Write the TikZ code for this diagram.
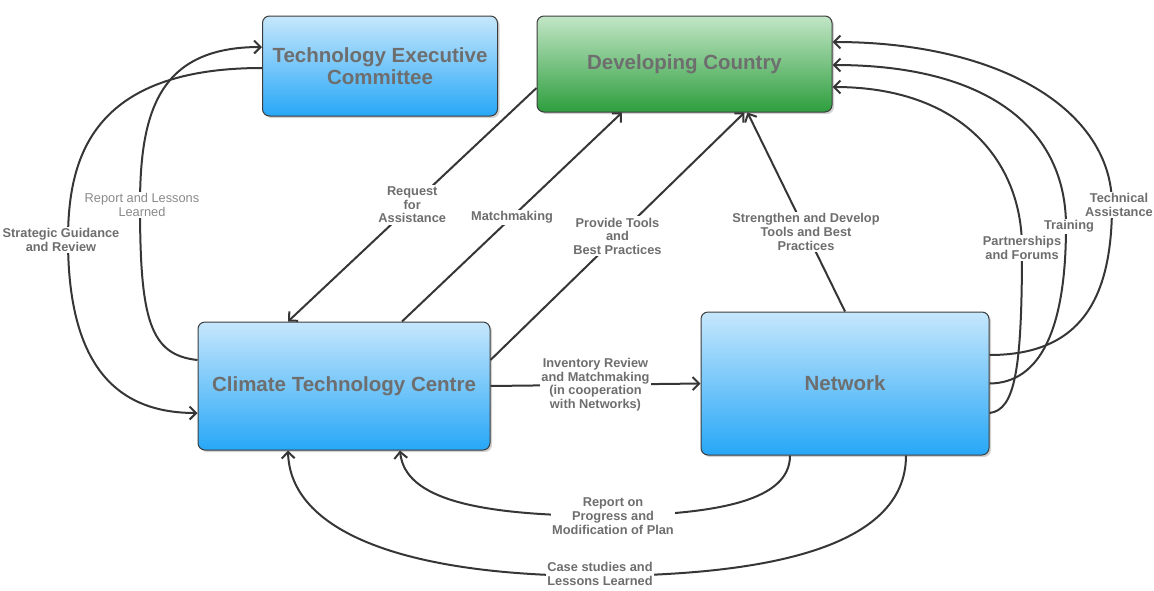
\documentclass[tikz,border=0pt]{standalone}
\usepackage{fontspec}
\setmainfont{Liberation Sans}
\usetikzlibrary{arrows.meta}
\usetikzlibrary{shadows}

\definecolor{boxtext}{HTML}{6E6E6E}
\definecolor{softtext}{HTML}{8A8A8A}
\definecolor{boxline}{HTML}{3C3C3C}
\definecolor{linkcolor}{HTML}{363636}
\definecolor{bluetop}{HTML}{C6E7FC}
\definecolor{bluebottom}{HTML}{27A7F7}
\definecolor{greentop}{HTML}{C2E6C6}
\definecolor{greenbottom}{HTML}{2E9E3E}

\begin{document}
\begin{tikzpicture}[x = 1pt, y = -1pt]
	\tikzstyle{BoxStyle} = [draw = boxline, line width = 1pt, rounded corners = 7pt, align = center, text = boxtext, font = \fontsize{20.5}{22}\selectfont\bfseries, drop shadow = {shadow xshift = 2pt, shadow yshift = -2pt, opacity = 0.35}]
	\tikzstyle{blueStyle} = [BoxStyle, top color = bluetop, bottom color = bluebottom]
	\tikzstyle{greenStyle} = [BoxStyle, top color = greentop, bottom color = greenbottom]
	\tikzstyle{LinkStyle} = [draw = linkcolor, line width = 2pt, -{Straight Barb[length = 6.5pt, width = 13pt]}]
	\tikzstyle{labelStyle} = [fill = white, align = center, text = boxtext, inner sep = 1.5pt, font = \fontsize{12.8}{13.8}\selectfont\bfseries]
	\tikzstyle{softLabelStyle} = [labelStyle, text = softtext, font = \fontsize{12.8}{13.8}\selectfont]
	\useasboundingbox (0, 0) rectangle (1154, 590);
	\node[blueStyle, minimum width = 235pt, minimum height = 100pt] (tec) at (380, 66) {Technology Executive\\Committee};
	\node[greenStyle, minimum width = 295pt, minimum height = 96pt] (dc) at (684.5, 64) {Developing Country};
	\node[blueStyle, minimum width = 292pt, minimum height = 128pt] (ctc) at (344, 386) {Climate Technology Centre};
	\node[blueStyle, minimum width = 288pt, minimum height = 143pt] (net) at (845, 383.5) {Network};
	\draw[LinkStyle] ([yshift = -2pt]tec.west) .. controls (90, 68) and (68, 160) .. (68, 240) node[labelStyle, xshift = -7pt] {Strategic Guidance\\and Review} .. controls (68, 370) and (120, 413) .. ([yshift = -27pt]ctc.west);
	\draw[LinkStyle] ([yshift = 26pt]ctc.west) .. controls (150, 355) and (140, 320) .. (140, 205) node[softLabelStyle, xshift = 2pt] {Report and Lessons\\Learned} .. controls (140, 110) and (160, 47) .. ([yshift = 19pt]tec.west);
	\draw[LinkStyle] ([yshift = -24pt]dc.west) -- node[labelStyle, pos = 0.5] {Request\\for\\Assistance} ([xshift = -56pt]ctc.north);
	\draw[LinkStyle] ([xshift = 58pt]ctc.north) -- node[labelStyle, pos = 0.5] {Matchmaking} ([xshift = -62.5pt]dc.south);
	\draw[LinkStyle] ([yshift = 26pt]ctc.east) -- node[labelStyle, pos = 0.5] {Provide Tools\\and\\Best Practices} ([xshift = 60pt]dc.south);
	\draw[LinkStyle] (net.north) -- node[labelStyle, pos = 0.4] {Strengthen and Develop\\Tools and Best\\Practices} ([xshift = 63pt]dc.south);
	\draw[LinkStyle] (ctc.east) -- node[labelStyle, pos = 0.5] {Inventory Review\\and Matchmaking\\(in cooperation\\with Networks)} (net.west);
	\draw[LinkStyle] ([yshift = 28.5pt]net.east) .. controls (1080, 355) and (1112, 300) .. (1112, 205) node[labelStyle, xshift = 7pt] {Technical\\Assistance} .. controls (1112, 110) and (1000, 42) .. ([yshift = 22pt]dc.east);
	\draw[LinkStyle] (net.east) .. controls (1040, 383) and (1066, 330) .. (1066, 226) node[labelStyle, xshift = 3pt] {Training} .. controls (1066, 130) and (990, 65) .. ([yshift = -1pt]dc.east);
	\draw[LinkStyle] ([yshift = -29.5pt]net.east) .. controls (1015, 410) and (1022, 370) .. (1022, 248) node[labelStyle] {Partnerships\\and Forums} .. controls (1022, 160) and (960, 87) .. ([yshift = -23pt]dc.east);
	\draw[LinkStyle] ([xshift = -55pt]net.south) .. controls (790, 500) and (720, 514) .. (613, 516) node[labelStyle] {Report on\\Progress and\\Modification of Plan} .. controls (480, 516) and (405, 500) .. ([xshift = 56pt]ctc.south);
	\draw[LinkStyle] ([xshift = 61pt]net.south) .. controls (906, 550) and (760, 575) .. (600, 576) node[labelStyle, yshift = 2pt] {Case studies and\\Lessons Learned} .. controls (400, 576) and (290, 530) .. ([xshift = -56pt]ctc.south);
\end{tikzpicture}
\end{document}
